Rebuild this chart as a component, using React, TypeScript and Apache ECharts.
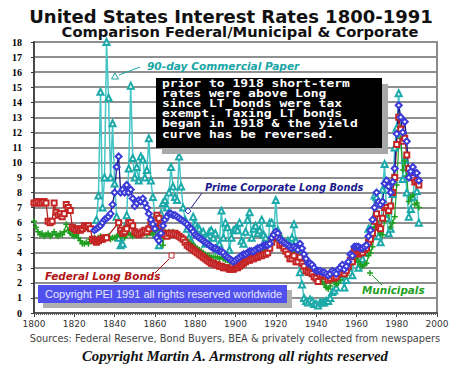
import React, { useEffect, useRef } from "react";
import * as echarts from "echarts";

// ---------- data ----------
const X_MIN = 1800;
const X_MAX = 2000;
const X_STEP = 20;
const Y_MIN = 0;
const Y_MAX = 18;

// Federal Long Bonds, yearly from 1800
const FED_START = 1800;
const fedValues: (number | null)[] = [
  7.3, 7.3, 7.4, 7.3, 7.3, 7.4, 7.3, 6.1, 6.0, 6.1,
  7.3, 6.7, 6.5, 6.6, 6.4, 6.6, 7.2, 7.0, 6.8, 5.7,
  5.6, 5.5, 5.6, 5.5, 5.6, 5.8, 5.7, 5.8, 5.6, 4.9,
  4.8, 4.7, 4.8, 4.9, 4.9, 5.0, 5.0, null, null, null,
  null, null, 6.0, 5.5, 5.3, 5.4, 5.6, 6.0, 6.0, 5.8,
  5.4, 5.3, 5.2, 5.3, 5.4, 5.5, 5.4, 5.6, 5.9, 5.8,
  6.0, 6.5, 6.3, 5.8, 5.3, 5.2, 5.1, 5.3, 5.3, 5.2,
  5.3, 5.2, 5.1, 5.0, 4.9, 4.7, 4.5, 4.4, 4.3, 4.2,
  4.1, 4.0, 3.9, 3.8, 3.7, 3.6, 3.5, 3.4, 3.3, 3.3,
  3.2, 3.2, 3.1, 3.1, 3.0, 3.0, 3.0, 2.9, 2.9, 2.9,
  3.0, 3.0, 3.1, 3.2, 3.3, 3.4, 3.5, 3.5, 3.6, 3.6,
  3.7, 3.7, 3.8, 3.8, 3.9, 3.9, 4.0, 4.3, 4.7, 5.1,
  5.2, 5.0, 4.5, 4.6, 4.3, 4.1, 3.9, 3.6, 3.6, 3.8,
  3.4, 3.4, 3.7, 3.3, 3.1, 2.8, 2.7, 2.7, 2.6, 2.4,
  2.3, 2.1, 2.5, 2.5, 2.5, 2.4, 2.2, 2.3, 2.5, 2.3,
  2.4, 2.6, 2.7, 2.9, 2.6, 2.8, 3.1, 3.5, 3.4, 4.1,
  4.0, 3.9, 4.0, 4.0, 4.2, 4.3, 4.7, 4.9, 5.3, 6.1,
  6.6, 5.7, 5.6, 6.3, 7.0, 7.0, 6.8, 7.1, 8.0, 9.0,
  11.2, 13.0, 12.2, 11.4, 11.6, 10.5, 9.6, 9.2, 9.0, 8.7,
  8.8, 8.5,
];

// Municipals, yearly from 1800
const MUNI_START = 1800;
const muniValues: number[] = [
  6.1, 5.7, 5.4, 5.2, 5.3, 5.1, 5.2, 5.3, 5.1, 5.2,
  5.4, 5.2, 5.1, 5.3, 5.2, 5.4, 5.9, 5.5, 5.3, 5.2,
  5.1, 5.2, 5.0, 4.8, 4.6, 4.6, 4.7, 4.6, 4.9, 4.9,
  5.0, 4.9, 5.0, 5.1, 4.9, 5.0, 5.0, 5.1, 4.9, 5.0,
  5.0, 5.1, 5.2, 5.1, 5.2, 5.0, 5.2, 5.3, 5.2, 5.1,
  5.2, 5.3, 5.2, 5.3, 5.4, 5.3, 5.2, 5.3, 5.3, 5.2,
  5.4, 5.6, 5.7, 5.5, 4.5, 5.4, 5.3, 5.4, 5.3, 5.4,
  5.3, 5.3, 5.2, 5.1, 5.0, 4.9, 4.8, 4.7, 4.6, 4.5,
  4.4, 4.3, 4.2, 4.1, 4.0, 3.9, 3.8, 3.8, 3.7, 3.7,
  3.7, 3.7, 3.6, 3.7, 3.6, 3.5, 3.5, 3.4, 3.4, 3.3,
  3.3, 3.4, 3.5, 3.6, 3.6, 3.7, 3.8, 3.9, 3.9, 3.9,
  4.0, 4.0, 4.1, 4.2, 4.2, 4.2, 4.1, 4.3, 4.6, 4.8,
  4.9, 4.8, 4.6, 4.4, 4.3, 4.2, 4.1, 4.0, 4.0, 4.2,
  4.1, 4.0, 4.5, 4.3, 3.9, 3.3, 3.0, 3.0, 2.8, 2.7,
  2.5, 2.3, 2.3, 2.1, 1.9, 1.7, 1.6, 1.8, 2.2, 2.1,
  1.9, 2.0, 2.2, 2.8, 2.5, 2.5, 2.9, 3.3, 3.3, 3.6,
  3.6, 3.4, 3.2, 3.1, 3.2, 3.3, 3.8, 4.0, 4.4, 5.7,
  6.1, 5.5, 5.3, 5.2, 6.1, 7.0, 6.6, 5.7, 6.0, 6.4,
  8.5, 11.2, 11.6, 9.5, 10.1, 9.1, 7.4, 7.7, 7.8, 7.2,
  7.3, 7.0,
];

// Prime Corporate Long Bonds, yearly from 1830
const CORP_START = 1830;
const corpValues: number[] = [
  5.5, 5.6, 5.7, 5.8, 6.0, 6.2, 6.3, 6.4, 6.6, 7.2,
  8.0, 9.7, 10.4, 8.0, 8.2, 8.0, 8.5, 8.0, 8.2, 7.6,
  7.1, 7.3, 7.5, 7.4, 7.6, 7.3, 7.0, 6.6, 6.2, 5.9,
  5.6, 5.0, 4.8, 5.3, 5.8, 6.2, 6.4, 6.6, 6.6, 6.5,
  6.5, 6.4, 6.3, 6.2, 6.1, 6.0, 5.9, 5.7, 5.6, 5.4,
  5.2, 5.1, 5.0, 4.9, 4.8, 4.7, 4.6, 4.5, 4.4, 4.3,
  4.3, 4.2, 4.1, 4.1, 4.0, 3.8, 3.7, 3.6, 3.5, 3.4,
  3.5, 3.6, 3.7, 3.8, 3.9, 3.9, 4.0, 4.1, 4.1, 4.1,
  4.2, 4.3, 4.3, 4.4, 4.5, 4.5, 4.5, 4.6, 5.0, 5.2,
  5.4, 5.3, 4.9, 4.8, 4.7, 4.6, 4.5, 4.4, 4.3, 4.4,
  4.3, 4.2, 4.6, 4.3, 3.9, 3.6, 3.3, 3.3, 3.2, 3.0,
  2.8, 2.8, 2.8, 2.7, 2.7, 2.6, 2.5, 2.6, 2.8, 2.7,
  2.6, 2.9, 3.0, 3.2, 2.9, 3.1, 3.4, 3.9, 3.8, 4.4,
  4.4, 4.4, 4.3, 4.3, 4.4, 4.5, 5.1, 5.5, 6.2, 7.0,
  8.0, 7.4, 7.2, 7.4, 8.6, 8.8, 8.4, 8.0, 8.7, 9.6,
  11.9, 13.8, 13.0, 12.0, 12.7, 11.4, 9.0, 9.4, 9.7, 9.3,
  9.3, 8.8,
];

// 90-day Commercial Paper, yearly from 1831
const CP_START = 1831;
const cpValues: number[] = [
  6.2, 7.8, 14.7, 7.0, 9.0, 18.0, 14.3, 9.0, 12.6,
  8.6, 6.4, 5.0, 4.5, 4.6, 5.7, 6.5, 9.6, 15.1, 10.3,
  9.0, 9.7, 8.8, 10.4, 10.2, 9.0, 9.5, 11.6, 8.8, 7.7,
  6.4, 5.7, 4.5, 6.6, 7.3, 7.5, 7.0, 8.0, 9.7, 8.4,
  7.7, 7.5, 10.4, 8.4, 7.0, 6.2, 5.6, 5.0, 4.8, 6.4,
  5.9, 5.7, 5.6, 5.3, 5.4, 4.6, 5.0, 5.4, 5.5, 5.0,
  5.3, 4.2, 4.6, 6.8, 5.0, 6.0, 5.7, 4.2, 5.0, 5.5,
  5.6, 5.5, 6.0, 4.8, 4.6, 5.4, 6.2, 6.7, 5.0, 5.6,
  5.8, 5.3, 5.5, 6.2, 5.2, 5.0, 4.2, 6.0, 6.0, 5.3,
  7.5, 5.5, 5.2, 4.8, 4.5, 4.6, 4.8, 4.6, 5.0, 5.9,
  4.8, 3.5, 2.7, 1.9, 1.0, 0.8, 0.7, 0.9, 0.8, 0.6,
  0.6, 0.5, 0.7, 0.7, 0.7, 0.8, 0.8, 1.0, 1.4, 1.5,
  1.7, 2.2, 2.4, 2.6, 1.7, 2.2, 3.0, 3.6, 2.5, 3.8,
  3.6, 3.0, 3.3, 3.6, 4.0, 4.4, 5.6, 5.1, 5.9, 7.8,
  7.7, 5.1, 4.7, 8.2, 9.9, 6.3, 5.3, 5.6, 7.9, 11.0,
  12.3, 14.6, 11.9, 8.9, 10.2, 8.0, 6.4, 6.9, 7.7, 9.0,
  8.1, 6.0,
];

const TITLE = "United States Interest Rates 1800-1991";
const SUBTITLE = "Comparison Federal/Municipal & Corporate";
const NOTE_LINES = [
  "prior to 1918 short-term",
  "rates were above Long",
  "since LT bonds were tax",
  "exempt. Taxing LT bonds",
  "began in 1918 & the yield",
  "curve has be reversed.",
];
const PEI_NOTE = "Copyright PEI 1991 all rights reserved worldwide";
const SOURCES = "Sources: Federal Reserve, Bond Buyers, BEA & privately collected from newspapers";
const COPYRIGHT = "Copyright Martin A. Armstrong all rights reserved";
const SERIES_NAMES = ["90-day Commercial Paper", "Municipals", "Federal Long Bonds", "Prime Corporate Long Bonds"];

const PLUS = "path://M3,0H5V3H8V5H5V8H3V5H0V3H3Z";

const toPairs = (start: number, vals: (number | null)[]) =>
  vals.map((v, i) => [start + i, v]);

export default function App() {
  const ref = useRef<HTMLDivElement>(null);
  useEffect(() => {
    if (!ref.current) return;
    const chart = echarts.init(ref.current, undefined, { renderer: "svg" });

    const labelFont = (size: number) => ({
      fontFamily: "DejaVu Sans",
      fontWeight: "bold" as const,
      fontStyle: "italic" as const,
      fontSize: size,
    });

    const graphic: any[] = [
      {
        type: "text", x: 231, y: 17, z: 100, scaleX: 1.06,
        style: { text: TITLE, font: 'bold 17px "DejaVu Sans"', fill: "#111", align: "center", verticalAlign: "middle" },
      },
      {
        type: "text", x: 240, y: 32, z: 100, scaleX: 1.09,
        style: { text: SUBTITLE, font: 'bold 13.5px "DejaVu Sans"', fill: "#111", align: "center", verticalAlign: "middle" },
      },
      // note box shadow + box
      { type: "rect", z: 100, shape: { x: 162, y: 84, width: 226, height: 70 }, style: { fill: "#a8a8a8" } },
      { type: "rect", z: 101, shape: { x: 156, y: 78, width: 226, height: 70 }, style: { fill: "#000" } },
      {
        type: "text", x: 162, y: 78, z: 102, scaleX: 1.24,
        style: {
          text: NOTE_LINES.join("\n"),
          font: 'bold 10.5px "DejaVu Sans Mono"',
          fill: "#fff", align: "left", verticalAlign: "top", lineHeight: 10.2,
        },
      },
      // PEI box
      { type: "rect", z: 100, shape: { x: 43, y: 290, width: 249, height: 18 }, style: { fill: "#b0b0b0" } },
      { type: "rect", z: 101, shape: { x: 38, y: 285, width: 249, height: 18 }, style: { fill: "#5050ee" } },
      {
        type: "text", x: 45, y: 294, z: 102,
        style: { text: PEI_NOTE, font: '11px "Liberation Sans"', fill: "#e6e6ff", align: "left", verticalAlign: "middle" },
      },
      // series labels and pointers
      {
        type: "text", x: 147, y: 66, z: 100,
        style: { text: SERIES_NAMES[0], ...labelFont(10.6), fill: "#17a5a5", align: "left", verticalAlign: "middle" },
      },
      { type: "line", z: 100, shape: { x1: 140, y1: 67, x2: 119, y2: 75 }, style: { stroke: "#17a5a5", lineWidth: 1 } },
      { type: "polygon", z: 100, shape: { points: [[115, 73], [118.5, 79], [111.5, 79]] }, style: { fill: "#fff", stroke: "#17a5a5", lineWidth: 1 } },

      {
        type: "text", x: 205, y: 187, z: 100,
        style: { text: SERIES_NAMES[3], ...labelFont(9.8), fill: "#1a1a8c", align: "left", verticalAlign: "middle" },
      },
      { type: "line", z: 100, shape: { x1: 202, y1: 193, x2: 191, y2: 208 }, style: { stroke: "#1a1a8c", lineWidth: 1 } },
      { type: "polygon", z: 100, shape: { points: [[188, 208], [191, 211], [188, 214], [185, 211]] }, style: { fill: "#fff", stroke: "#3333cc", lineWidth: 1 } },

      {
        type: "text", x: 45, y: 276, z: 100,
        style: { text: SERIES_NAMES[2], ...labelFont(10.4), fill: "#b01414", align: "left", verticalAlign: "middle" },
      },
      { type: "line", z: 100, shape: { x1: 155, y1: 273, x2: 169, y2: 259 }, style: { stroke: "#b01414", lineWidth: 1 } },
      { type: "rect", z: 100, shape: { x: 169, y: 253, width: 5, height: 5 }, style: { fill: "#fff", stroke: "#c02020", lineWidth: 1 } },

      {
        type: "text", x: 362, y: 290, z: 100,
        style: { text: SERIES_NAMES[1], ...labelFont(10.4), fill: "#22a022", align: "left", verticalAlign: "middle" },
      },
      { type: "line", z: 100, shape: { x1: 382, y1: 285, x2: 372, y2: 275 }, style: { stroke: "#22a022", lineWidth: 1 } },
      { type: "line", z: 100, shape: { x1: 367, y1: 273, x2: 373, y2: 273 }, style: { stroke: "#22a022", lineWidth: 1.5 } },
      { type: "line", z: 100, shape: { x1: 370, y1: 270, x2: 370, y2: 276 }, style: { stroke: "#22a022", lineWidth: 1.5 } },

      // footer
      {
        type: "text", x: 235, y: 338, z: 100,
        style: { text: SOURCES, font: '9.8px "DejaVu Sans"', fill: "#444", align: "center", verticalAlign: "middle" },
      },
      {
        type: "text", x: 235, y: 356, z: 100,
        style: { text: COPYRIGHT, font: 'italic bold 14.8px "Liberation Serif"', fill: "#111", align: "center", verticalAlign: "middle" },
      },
    ];

    chart.setOption({
      animation: false,
      backgroundColor: "#fff",
      grid: { left: 34, right: 27, top: 42, bottom: 58, show: true, borderColor: "#8a8a8a", borderWidth: 2, backgroundColor: "transparent" },
      xAxis: {
        type: "value",
        min: X_MIN,
        max: X_MAX,
        interval: X_STEP,
        axisLine: { show: true, lineStyle: { color: "#444", width: 1.5 } },
        axisTick: { show: true, length: 4, lineStyle: { color: "#444" } },
        minorTick: { show: true, splitNumber: 20, length: 2, lineStyle: { color: "#555" } },
        splitLine: { show: false },
        axisLabel: { fontFamily: "DejaVu Sans", fontSize: 9, color: "#333", margin: 6, formatter: (v: number) => String(v) },
      },
      yAxis: {
        type: "value",
        min: Y_MIN,
        max: Y_MAX,
        interval: 1,
        axisLine: { show: true, lineStyle: { color: "#333", width: 1.5 } },
        axisTick: { show: true, length: 3, lineStyle: { color: "#333" } },
        splitLine: { show: true, lineStyle: { color: "#8f8f8f", width: 2 } },
        axisLabel: { fontFamily: "Liberation Serif", fontWeight: "bold", fontSize: 10, color: "#000", margin: 12 },
      },
      series: [
        {
          name: SERIES_NAMES[0],
          type: "line",
          data: toPairs(CP_START, cpValues),
          symbol: "emptyTriangle",
          symbolSize: 6,
          lineStyle: { color: "#45c6c6", width: 1.5 },
          itemStyle: { color: "#1ca9a9", borderWidth: 1 },
        },
        {
          name: SERIES_NAMES[1],
          type: "line",
          data: toPairs(MUNI_START, muniValues),
          symbol: PLUS,
          symbolSize: 6,
          lineStyle: { color: "#22a322", width: 1.2 },
          itemStyle: { color: "#1e9e1e" },
        },
        {
          name: SERIES_NAMES[2],
          type: "line",
          data: toPairs(FED_START, fedValues),
          connectNulls: true,
          symbol: "emptyRect",
          symbolSize: 5,
          lineStyle: { color: "#b01818", width: 1.2 },
          itemStyle: { color: "#c42424", borderWidth: 1 },
        },
        {
          name: SERIES_NAMES[3],
          type: "line",
          data: toPairs(CORP_START, corpValues),
          symbol: "emptyDiamond",
          symbolSize: 6,
          lineStyle: { color: "#16168a", width: 1.3 },
          itemStyle: { color: "#3a3ad8", borderWidth: 1 },
        },
      ],
      graphic,
    });

    return () => chart.dispose();
  }, []);

  return (
    <div
      ref={ref}
      style={{ position: "fixed", left: 0, top: 0, width: 464, height: 371, background: "#fff" }}
    />
  );
}
